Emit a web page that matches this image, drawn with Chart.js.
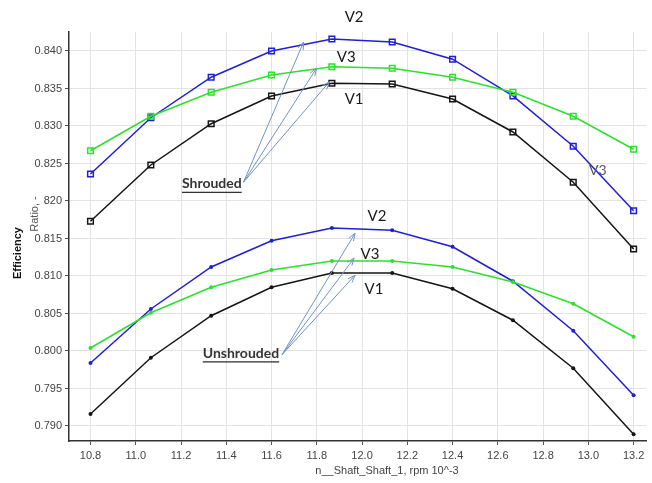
<!DOCTYPE html>
<html>
<head>
<meta charset="utf-8">
<script src="https://cdn.jsdelivr.net/npm/chart.js@4.4.1/dist/chart.umd.min.js"></script>
<style>
  html, body { margin: 0; padding: 0; background: #fff; }
  #wrap { width: 652px; height: 483px; position: relative; }
</style>
</head>
<body>
<div id="wrap"><canvas id="effChart" width="652" height="483"></canvas></div>
<script>
// shaft speed, rpm 10^-3
const speeds = [10.8, 11.0667, 11.3333, 11.6, 11.8667, 12.1333, 12.4, 12.6667, 12.9333, 13.2];

// shrouded impeller
const shroudedV1 = [0.8173, 0.8248, 0.8303, 0.8340, 0.8357, 0.8356, 0.8336, 0.8292, 0.8225, 0.8136];
const shroudedV2 = [0.8236, 0.8311, 0.8365, 0.8400, 0.8416, 0.8412, 0.8389, 0.8340, 0.8273, 0.8187];
const shroudedV3 = [0.8267, 0.8313, 0.8345, 0.8368, 0.8379, 0.8377, 0.8365, 0.8345, 0.8313, 0.8269];

// unshrouded impeller
const unshroudedV1 = [0.7916, 0.7991, 0.8047, 0.8085, 0.8104, 0.8104, 0.8083, 0.8041, 0.7977, 0.7889];
const unshroudedV2 = [0.7984, 0.8056, 0.8112, 0.8147, 0.8164, 0.8161, 0.8139, 0.8093, 0.8027, 0.7941];
const unshroudedV3 = [0.8004, 0.8051, 0.8085, 0.8108, 0.8120, 0.8120, 0.8112, 0.8092, 0.8063, 0.8019];

const xTicks = [10.8, 11.0, 11.2, 11.4, 11.6, 11.8, 12.0, 12.2, 12.4, 12.6, 12.8, 13.0, 13.2];
const yTicks = [0.790, 0.795, 0.800, 0.805, 0.810, 0.815, 0.820, 0.825, 0.830, 0.835, 0.840];

// text labels placed in data units [x, y, text]
const curveLabels = [
    [11.965, 0.8445, "V2"], [11.93, 0.8392, "V3"], [11.965, 0.8336, "V1"],
    [12.066, 0.8180, "V2"], [12.035, 0.8129, "V3"], [12.053, 0.8083, "V1"]
];
const strayLabel = [13.042, 0.8240, "V3"];
const groupLabels = [[11.204, 0.8223, "Shrouded"], [11.296, 0.7997, "Unshrouded"]];
// arrows: start point then three tips
const shroudedArrows = [[11.476, 0.8225], [11.742, 0.8412], [11.799, 0.8377], [11.856, 0.8359]];
const unshroudedArrows = [[11.646, 0.7995], [11.969, 0.8157], [11.965, 0.8124], [11.969, 0.8101]];

const BLUE = "#1f1fd6", GREEN = "#2de02d", BLACK = "#151515";

function toPts(ys) {
    return speeds.map((x, i) => ({ x: x, y: ys[i] }));
}

function shrouded(label, data, color) {
    return {
        label: label, data: toPts(data), borderColor: color, backgroundColor: "#fff",
        borderWidth: 1.5, pointStyle: "rect", pointRadius: 4, pointBorderWidth: 1.5,
        pointBorderColor: color, pointBackgroundColor: "rgba(255,255,255,0)", tension: 0
    };
}

function unshrouded(label, data, color) {
    return {
        label: label, data: toPts(data), borderColor: color, backgroundColor: color,
        borderWidth: 1.5, pointStyle: "circle", pointRadius: 2, pointBorderWidth: 0,
        pointBackgroundColor: color, tension: 0
    };
}

// draws the labels, arrows and axis titles on top of the chart
const notesPlugin = {
    id: "notes",
    afterDraw(chart) {
        const c = chart.ctx;
        const xs = chart.scales.x, ys = chart.scales.y;
        const px = v => xs.getPixelForValue(v), py = v => ys.getPixelForValue(v);
        c.save();

        // arrows
        function arrows(set) {
            const sx = px(set[0][0]), sy = py(set[0][1]);
            c.strokeStyle = "#6f93c4";
            c.lineWidth = 1;
            for (let i = 1; i < set.length; i++) {
                const tx = px(set[i][0]), ty = py(set[i][1]);
                c.beginPath();
                c.moveTo(sx, sy);
                c.lineTo(tx, ty);
                const a = Math.atan2(ty - sy, tx - sx);
                c.moveTo(tx - 8 * Math.cos(a - 0.35), ty - 8 * Math.sin(a - 0.35));
                c.lineTo(tx, ty);
                c.lineTo(tx - 8 * Math.cos(a + 0.35), ty - 8 * Math.sin(a + 0.35));
                c.stroke();
            }
        }
        arrows(shroudedArrows);
        arrows(unshroudedArrows);

        // V1 / V2 / V3
        c.fillStyle = "#1a1a1a";
        c.font = "15px Lato, 'Open Sans', sans-serif";
        c.textAlign = "center";
        c.textBaseline = "middle";
        curveLabels.forEach(l => c.fillText(l[2], px(l[0]), py(l[1])));
        c.fillStyle = "#555";
        c.font = "14px Lato, sans-serif";
        c.fillText(strayLabel[2], px(strayLabel[0]), py(strayLabel[1]));

        // group names, bold and underlined
        c.fillStyle = "#333";
        c.font = "bold 14px Lato, 'Open Sans', sans-serif";
        c.textAlign = "left";
        groupLabels.forEach(l => {
            const x = px(l[0]), y = py(l[1]);
            c.fillText(l[2], x, y);
            const w = c.measureText(l[2]).width;
            c.fillRect(x, y + 8, w, 1.3);
        });

        // axis titles
        c.fillStyle = "#444";
        c.font = "11px 'Liberation Sans', Arial, sans-serif";
        c.textAlign = "center";
        c.fillText("n__Shaft_Shaft_1, rpm 10^-3", 387, 471);

        // "Ratio, -" sits over the start of the 0.820 tick label
        c.save();
        c.translate(35, 214);
        c.rotate(-Math.PI / 2);
        c.fillStyle = "#fff";
        c.fillRect(-19, -7, 38, 16);
        c.fillStyle = "#555";
        c.fillText("Ratio, -", 0, 0);
        c.restore();

        c.save();
        c.translate(18, 253);
        c.rotate(-Math.PI / 2);
        c.fillStyle = "#111";
        c.font = "bold 11px 'Liberation Sans', Arial, sans-serif";
        c.fillText("Efficiency", 0, 0);
        c.restore();

        c.restore();
    }
};

const tickFont = { family: "'Liberation Sans', Arial, sans-serif", size: 11 };

new Chart(document.getElementById("effChart").getContext("2d"), {
    type: "line",
    data: {
        datasets: [
            shrouded("Shrouded V1", shroudedV1, BLACK),
            shrouded("Shrouded V3", shroudedV3, GREEN),
            shrouded("Shrouded V2", shroudedV2, BLUE),
            unshrouded("Unshrouded V1", unshroudedV1, BLACK),
            unshrouded("Unshrouded V3", unshroudedV3, GREEN),
            unshrouded("Unshrouded V2", unshroudedV2, BLUE)
        ]
    },
    options: {
        responsive: false,
        animation: false,
        layout: { padding: { top: 32, right: 0, left: 0, bottom: 0 } },
        plugins: { legend: { display: false }, tooltip: { enabled: false } },
        scales: {
            x: {
                type: "linear",
                min: 10.705,
                max: 13.257,
                afterBuildTicks: s => { s.ticks = xTicks.map(v => ({ value: v })); },
                afterFit: s => { s.height = 42; },
                ticks: { font: tickFont, color: "#444", padding: 4, maxRotation: 0,
                         callback: v => v.toFixed(1) },
                grid: { color: "#e3e3e3", tickLength: 4, tickColor: "#555" },
                border: { color: "#333", width: 1.5 }
            },
            y: {
                min: 0.788,
                max: 0.84253,
                afterBuildTicks: s => { s.ticks = yTicks.map(v => ({ value: v })); },
                afterFit: s => { s.width = 69; },
                ticks: { font: tickFont, color: "#444", padding: 3,
                         callback: v => v.toFixed(3) },
                grid: { color: "#e3e3e3", tickLength: 4, tickColor: "#555" },
                border: { color: "#333", width: 1.5 }
            }
        }
    },
    plugins: [notesPlugin]
});
</script>
</body>
</html>
